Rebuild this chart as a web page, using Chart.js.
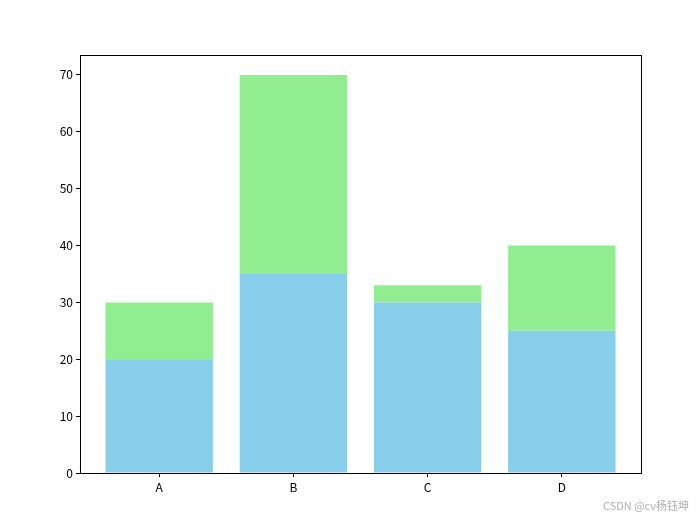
<!DOCTYPE html>
<html><head><meta charset="utf-8">
<script src="https://cdn.jsdelivr.net/npm/chart.js@4/dist/chart.umd.min.js"></script>
<style>html,body{margin:0;padding:0;background:#fff}#c{display:block}</style>
</head><body>
<canvas id="c" width="697" height="518"></canvas>
<script>
const categories = ['A', 'B', 'C', 'D'];
const bottomValues = [20, 35, 30, 25];
const topValues = [10, 35, 3, 15];
const yTicks = [0, 10, 20, 30, 40, 50, 60, 70];

const FONT = '"Noto Sans CJK SC", "DejaVu Sans", sans-serif';

const framePlugin = {
  id: 'frame',
  afterDraw(chart) {
    const {ctx, chartArea: a} = chart;
    ctx.save();
    ctx.strokeStyle = '#000';
    ctx.lineWidth = 1;
    ctx.strokeRect(Math.round(a.left) + 0.5, Math.round(a.top) + 0.5, Math.round(a.right - a.left), Math.round(a.bottom - a.top));
    ctx.fillStyle = '#b0b0b0';
    ctx.font = '11px ' + FONT;
    ctx.textAlign = 'right';
    ctx.textBaseline = 'middle';
    ctx.fillText('CSDN @cv杨钰坤', 689, 506);
    ctx.restore();
  }
};

new Chart(document.getElementById('c'), {
  type: 'bar',
  data: {
    datasets: [
      { data: categories.map((c, i) => ({x: i, y: bottomValues[i]})), backgroundColor: '#87CEEB', borderWidth: 0, barPercentage: 0.8, categoryPercentage: 1.0 },
      { data: categories.map((c, i) => ({x: i, y: topValues[i]})), backgroundColor: '#90EE90', borderWidth: 0, barPercentage: 0.8, categoryPercentage: 1.0 }
    ]
  },
  options: {
    responsive: false,
    animation: false,
    layout: { padding: { left: 0, right: 56, top: 55, bottom: 0 } },
    plugins: { legend: { display: false }, tooltip: { enabled: false } },
    scales: {
      x: {
        type: 'linear', stacked: true, min: -0.59, max: 3.59, offset: false,
        afterBuildTicks(s) { s.ticks = categories.map((c, i) => ({value: i})); },
        afterFit(s) { s.height = 45; },
        grid: { drawOnChartArea: false, drawTicks: true, tickLength: 4, tickColor: '#000', offset: false },
        border: { display: true, color: '#000' },
        ticks: { color: '#000', font: { family: FONT, size: 12 }, padding: 3, autoSkip: false, maxRotation: 0,
          callback: (v) => categories[v] ?? '' }
      },
      y: {
        stacked: true, min: 0, max: 73.5,
        afterBuildTicks(s) { s.ticks = yTicks.map(v => ({value: v})); },
        afterFit(s) { s.width = 80; },
        grid: { drawOnChartArea: false, drawTicks: true, tickLength: 4, tickColor: '#000' },
        border: { display: true, color: '#000' },
        ticks: { color: '#000', font: { family: FONT, size: 12 }, padding: 3 }
      }
    }
  },
  plugins: [framePlugin]
});
</script>
</body></html>
